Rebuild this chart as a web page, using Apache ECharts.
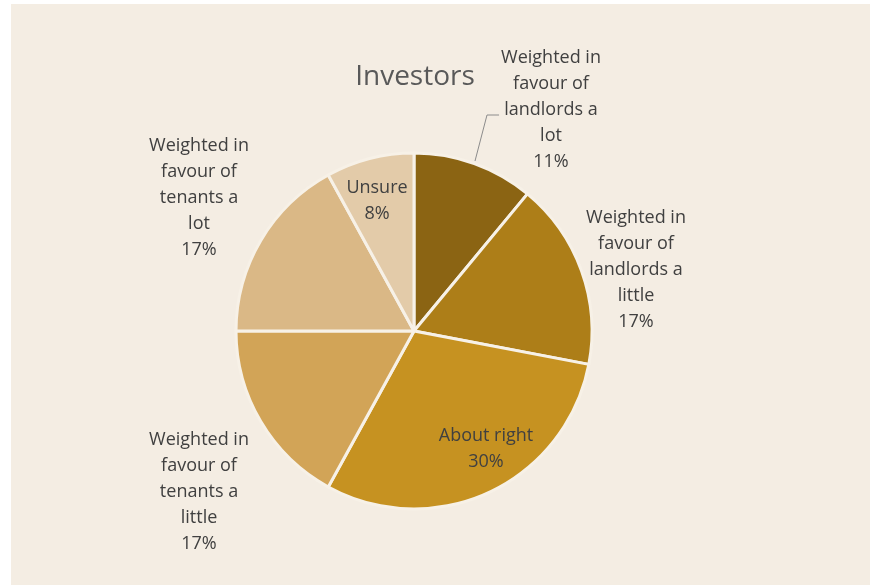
<!DOCTYPE html>
<html>
<head>
<meta charset="utf-8">
<script src="https://cdn.jsdelivr.net/npm/echarts@6/dist/echarts.min.js"></script>
<style>
  html, body { margin: 0; padding: 0; background: #ffffff; width: 870px; height: 585px; overflow: hidden; }
  #chart { position: absolute; left: 11px; top: 4px; width: 859px; height: 581px; }
</style>
</head>
<body>
<div id="chart"></div>
<script>
// Survey answers, clockwise from twelve o'clock
const categories = [
  'Weighted in\nfavour of\nlandlords a\nlot',
  'Weighted in\nfavour of\nlandlords a\nlittle',
  'About right',
  'Weighted in\nfavour of\ntenants a\nlittle',
  'Weighted in\nfavour of\ntenants a\nlot',
  'Unsure'
];
const shares = [11, 17, 30, 17, 17, 8];

// Slice fills, dark to light
const sliceColors = ['#8b6413', '#ad7e18', '#c69221', '#d2a457', '#dab886', '#e3cba9'];

// Where each label block sits (centre of the text block, chart pixels)
const labelSpots = [[540, 106], [625, 266], [475, 445], [188, 488], [188, 194], [366, 197]];

const chart = echarts.init(document.getElementById('chart'));

chart.setOption({
  backgroundColor: '#f4ede3',
  animation: false,
  title: {
    text: 'Investors',
    left: 399,
    top: 54,
    textAlign: 'center',
    textStyle: { fontFamily: 'Open Sans', fontSize: 28, fontWeight: 'normal', color: '#595959' }
  },
  series: [{
    type: 'pie',
    center: [403, 327],
    radius: 178,
    startAngle: 90,
    clockwise: true,
    itemStyle: { borderColor: '#f7f1e7', borderWidth: 3 },
    label: {
      show: true,
      position: 'outside',
      formatter: '{b}\n{c}%',
      fontFamily: 'Open Sans',
      fontSize: 18,
      lineHeight: 26,
      color: '#404040',
      align: 'center'
    },
    labelLine: { show: false },
    // Pin each label block in place; the first slice gets a leader line
    labelLayout: function (params) {
      const spot = labelSpots[params.dataIndex];
      const out = { x: spot[0], y: spot[1], align: 'center', verticalAlign: 'middle' };
      if (params.dataIndex === 0) {
        const rect = params.labelRect;
        const lx = spot[0] - rect.width / 2 - 2;
        out.labelLinePoints = [[464, 157], [476, 111], [lx, 111]];
      }
      return out;
    },
    emphasis: { disabled: true },
    data: categories.map(function (name, i) {
      const item = { name: name, value: shares[i], itemStyle: { color: sliceColors[i] } };
      if (i === 0) {
        item.labelLine = { show: true, length: 10, length2: 10, lineStyle: { color: '#8c8c8c', width: 1 } };
      }
      return item;
    })
  }]
});
</script>
</body>
</html>
